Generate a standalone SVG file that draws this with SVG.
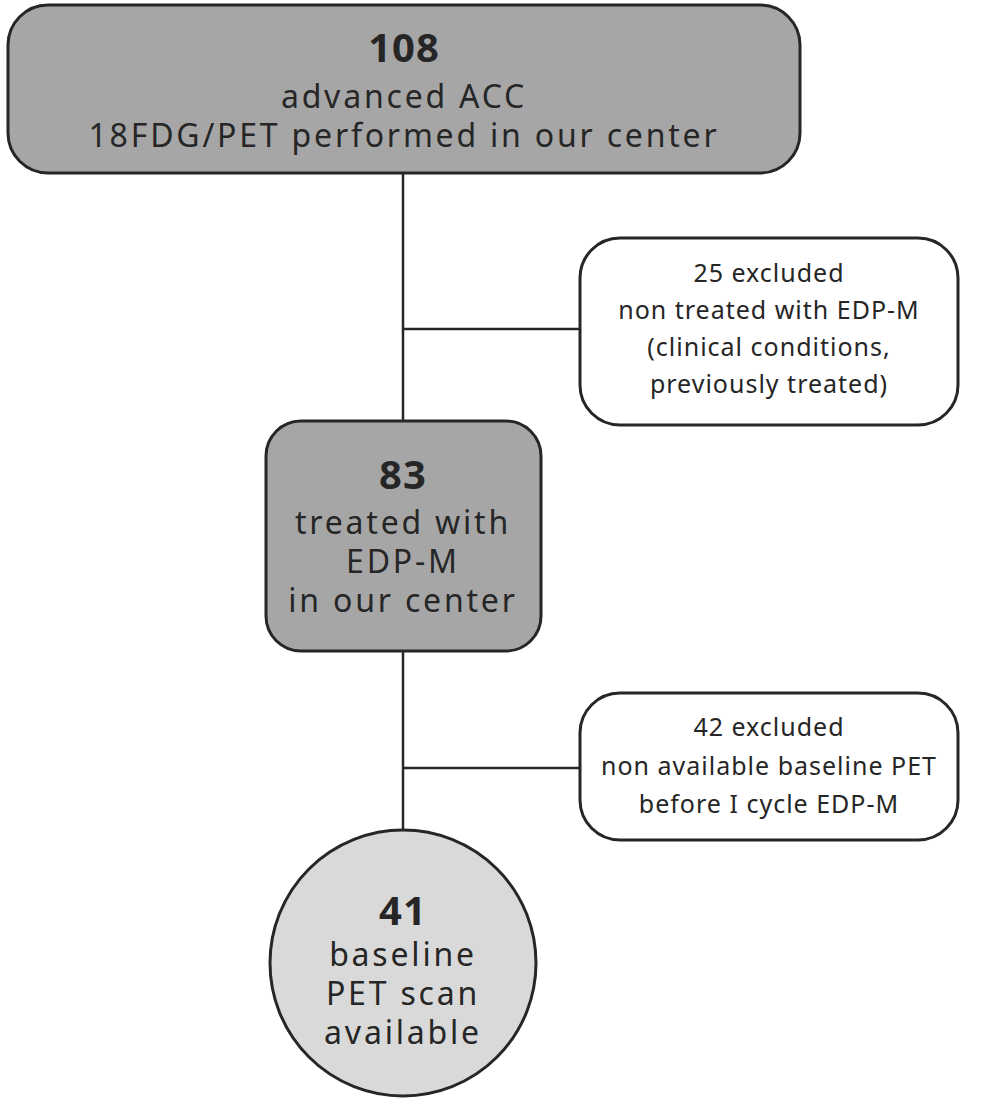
<svg xmlns="http://www.w3.org/2000/svg" width="993" height="1112" viewBox="0 0 993 1112">
<style>
.b{stroke:#262626;stroke-width:3}
.g{fill:#a6a6a6}
.w{fill:#fff}
text{font-family:"Noto Sans","Liberation Sans",sans-serif;fill:#262626;text-anchor:middle}
.big{font-size:32px;letter-spacing:2.8px}
.num{font-size:40px;font-weight:bold;letter-spacing:1px}
.sm{font-size:25px;letter-spacing:1px}
.c line{stroke:#262626;stroke-width:2.5}
</style>
<rect width="993" height="1112" fill="#fff"/>
<g class="c" id="connectors">
<line x1="403" y1="173" x2="403" y2="422"/>
<line x1="403" y1="329" x2="580" y2="329"/>
<line x1="403" y1="651" x2="403" y2="830"/>
<line x1="403" y1="768" x2="580" y2="768"/>
</g>
<g id="n108">
<rect class="b g" x="8" y="5" width="792" height="168" rx="40"/>
<text class="num" x="404" y="62">108</text>
<text class="big" x="404" y="108">advanced ACC</text>
<text class="big" x="404" y="147">18FDG/PET performed in our center</text>
</g>
<g id="ex25">
<rect class="b w" x="580" y="238" width="378" height="187" rx="40"/>
<text class="sm" x="769" y="282">25 excluded</text>
<text class="sm" x="769" y="319">non treated with EDP-M</text>
<text class="sm" x="769" y="356">(clinical conditions,</text>
<text class="sm" x="769" y="393">previously treated)</text>
</g>
<g id="n83">
<rect class="b g" x="266" y="421" width="275" height="230" rx="35"/>
<text class="num" x="403" y="489">83</text>
<text class="big" x="403" y="534">treated with</text>
<text class="big" x="403" y="573">EDP-M</text>
<text class="big" x="403" y="612">in our center</text>
</g>
<g id="ex42">
<rect class="b w" x="580" y="693" width="378" height="147" rx="40"/>
<text class="sm" x="769" y="736">42 excluded</text>
<text class="sm" x="769" y="775">non available baseline PET</text>
<text class="sm" x="769" y="813">before I cycle EDP-M</text>
</g>
<g id="n41">
<circle class="b" cx="403" cy="963" r="133" fill="#d9d9d9"/>
<text class="num" x="403" y="925">41</text>
<text class="big" x="403" y="966">baseline</text>
<text class="big" x="403" y="1005">PET scan</text>
<text class="big" x="403" y="1044">available</text>
</g>
</svg>
